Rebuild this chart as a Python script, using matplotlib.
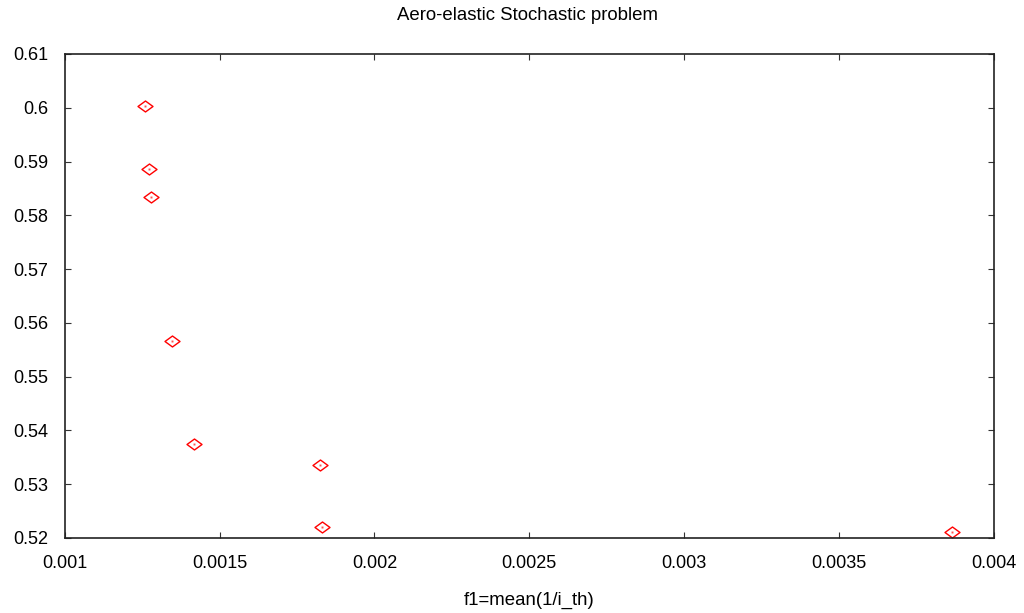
import matplotlib
matplotlib.use("Agg")
import matplotlib.pyplot as plt
from matplotlib.path import Path
import numpy as np

# Pareto front points: f1 = mean(1/i_th) vs second objective
f1 = [0.00126, 0.001273, 0.00128, 0.001347, 0.001418, 0.001825, 0.00183, 0.003866]
f2 = [0.6004, 0.5887, 0.5835, 0.5566, 0.5375, 0.5335, 0.5220, 0.5211]

x_ticks = [0.001, 0.0015, 0.002, 0.0025, 0.003, 0.0035, 0.004]
x_tick_labels = ["0.001", "0.0015", "0.002", "0.0025", "0.003", "0.0035", "0.004"]
y_ticks = [0.52, 0.53, 0.54, 0.55, 0.56, 0.57, 0.58, 0.59, 0.6, 0.61]
y_tick_labels = ["0.52", "0.53", "0.54", "0.55", "0.56", "0.57", "0.58", "0.59", "0.6", "0.61"]

plt.rcParams["font.family"] = ["Liberation Sans", "DejaVu Sans"]

W, H = 1024, 613
fig = plt.figure(figsize=(W / 100, H / 100), dpi=100)
left, right, top, bottom = 64.7, 994, 54, 538
ax = fig.add_axes([left / W, 1 - bottom / H, (right - left) / W, (bottom - top) / H])

# flattened diamond, like gnuplot's point type
diamond = Path([(-1, 0), (0, 0.73), (1, 0), (0, -0.73), (-1, 0)],
               [Path.MOVETO, Path.LINETO, Path.LINETO, Path.LINETO, Path.CLOSEPOLY])
ax.plot(f1, f2, linestyle="none", marker=diamond, markersize=10.8,
        markerfacecolor="none", markeredgecolor="#ff0000", markeredgewidth=1.0)
ax.plot(f1, f2, linestyle="none", marker="s", markersize=1.4,
        markerfacecolor="#ff5050", markeredgewidth=0)

ax.set_xlim(0.001, 0.004)
ax.set_ylim(0.52, 0.61)
ax.set_xticks(x_ticks)
ax.set_xticklabels(x_tick_labels)
ax.set_yticks(y_ticks)
ax.set_yticklabels(y_tick_labels)
ax.tick_params(direction="in", length=4.5, width=0.8, color="#333333",
               labelsize=13, top=True, right=True)
ax.tick_params(axis="x", pad=12.5)
ax.tick_params(axis="y", pad=12)
for s in ax.spines.values():
    s.set_linewidth(1.2)
    s.set_color("#222222")

fig.text(527.5 / W, 1 - 15 / H, "Aero-elastic Stochastic problem",
         ha="center", va="center", fontsize=13.4)
fig.text(529 / W, 1 - 600 / H, "f1=mean(1/i_th)",
         ha="center", va="center", fontsize=13.4)

fig.savefig("out.png", dpi=100)
